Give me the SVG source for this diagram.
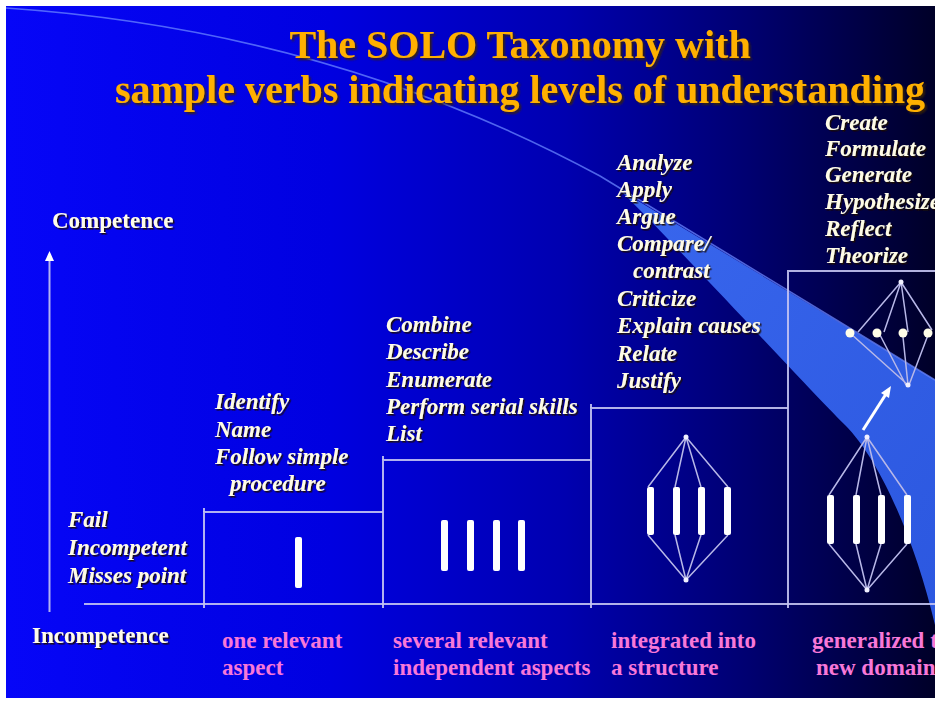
<svg xmlns="http://www.w3.org/2000/svg" width="935" height="704" viewBox="0 0 935 704">
<defs>
<linearGradient id="bg" x1="0" y1="0" x2="1" y2="0">
<stop offset="0" stop-color="#0606F8"/>
<stop offset="0.35" stop-color="#0000E0"/>
<stop offset="0.6" stop-color="#0000B0"/>
<stop offset="0.8" stop-color="#000070"/>
<stop offset="1" stop-color="#000028"/>
</linearGradient>
<linearGradient id="wedge" x1="0" y1="0" x2="1" y2="1">
<stop offset="0" stop-color="#3C6CF2"/>
<stop offset="1" stop-color="#2E5CEA"/>
</linearGradient>
<filter id="sh" x="-10%" y="-30%" width="120%" height="160%">
<feDropShadow dx="1.5" dy="1.5" stdDeviation="0.6" flood-color="#1A0E00" flood-opacity="0.95"/>
</filter>
<filter id="tsh" x="-5%" y="-20%" width="110%" height="140%">
<feDropShadow dx="2" dy="2" stdDeviation="0.8" flood-color="#3A2000" flood-opacity="0.9"/>
</filter>
<filter id="glow" x="-50%" y="-50%" width="200%" height="200%">
<feGaussianBlur stdDeviation="0.6"/>
</filter>
<style>
.title{font-family:"Liberation Serif","Times New Roman",serif;font-weight:bold;font-size:40px;fill:#FFB000;text-anchor:middle;filter:url(#tsh)}
.verb{font-family:"Liberation Serif","Times New Roman",serif;font-weight:bold;font-style:italic;font-size:23px;fill:#FFFCE6;filter:url(#sh)}
.axis{font-family:"Liberation Serif","Times New Roman",serif;font-weight:bold;font-size:23px;fill:#FFFCEA;filter:url(#sh)}
.cat{font-family:"Liberation Serif","Times New Roman",serif;font-weight:bold;font-size:23px;fill:#F878D8}
.step{stroke:#C4C4F2;stroke-width:2;fill:none;stroke-opacity:0.9}
.link{stroke:#B8B8E8;stroke-width:1.5;fill:none}
.bar{fill:#FFFFFF}
.node{fill:#F0F0FF}
.dot{fill:#FFFDE8}
</style>
</defs>

<g id="background">
<rect x="0" y="0" width="935" height="704" fill="#FFFFFF"/>
<rect x="6" y="6" width="929" height="692" fill="url(#bg)"/>
<path d="M620,190 L935,380 L935,625 C915,540 880,460 845,425 C800,380 700,270 620,190 Z" fill="url(#wedge)" opacity="0.95"/>
<path d="M6,8 Q330,30 600,176 L935,380" fill="none" stroke="#6A86FF" stroke-width="1.6" stroke-opacity="0.75"/>
</g>

<g id="title">
<text class="title" x="520" y="58">The SOLO Taxonomy with</text>
<text class="title" x="520" y="103">sample verbs indicating levels of understanding</text>
</g>

<g id="axes">
<line class="step" x1="49.5" y1="612" x2="49.5" y2="258"/>
<polygon points="45,261 54,261 49.5,251" fill="#FFFFFF"/>
<line class="step" x1="84" y1="604" x2="935" y2="604"/>
<text class="axis" x="52" y="228">Competence</text>
<text class="axis" x="32" y="643">Incompetence</text>
</g>

<g id="steps">
<path class="step" d="M204,608 V512 H383"/>
<path class="step" d="M383,608 V460 H591"/>
<path class="step" d="M591,608 V408 H788"/>
<path class="step" d="M788,608 V271 H935"/>
<line class="step" x1="204" y1="512" x2="204" y2="508"/>
<line class="step" x1="383" y1="460" x2="383" y2="456"/>
<line class="step" x1="591" y1="408" x2="591" y2="404"/>
</g>

<g id="connectors">
<!-- relational diamond -->
<path class="link" d="M686,437 L648,487 M686,437 L675,487 M686,437 L701,487 M686,437 L728,487"/>
<path class="link" d="M648,535 L686,580 M675,535 L686,580 M701,535 L686,580 M728,535 L686,580"/>
<!-- extended abstract lower diamond -->
<path class="link" d="M867,437 L829,495 M867,437 L856,495 M867,437 L881,495 M867,437 L907,495"/>
<path class="link" d="M829,544 L867,590 M856,544 L867,590 M881,544 L867,590 M907,544 L867,590"/>
<!-- extended abstract upper diamond -->
<path class="link" d="M901,282 L858,332 M901,282 L884,332 M901,282 L908,332 M901,282 L932,330"/>
<path class="link" d="M850,333 L908,385 M880,335 L906,385 M903,337 L908,385 M928,335 L909,385"/>
<!-- generalisation arrow -->
<line x1="863" y1="430" x2="886" y2="394" stroke="#FFFFFF" stroke-width="3"/>
<polygon points="891,386 881,393 889,398" fill="#FFFFFF"/>
</g>

<g id="level-prestructural">
<text class="verb" x="68" y="527">Fail</text>
<text class="verb" x="68" y="555">Incompetent</text>
<text class="verb" x="68" y="583">Misses point</text>
</g>

<g id="level-unistructural">
<text class="verb" x="215" y="409">Identify</text>
<text class="verb" x="215" y="437">Name</text>
<text class="verb" x="215" y="464">Follow simple</text>
<text class="verb" x="230" y="491">procedure</text>
<rect class="bar" x="295" y="537" width="7" height="51" rx="2"/>
<text class="cat" x="222" y="648">one relevant</text>
<text class="cat" x="222" y="675">aspect</text>
</g>

<g id="level-multistructural">
<text class="verb" x="386" y="332">Combine</text>
<text class="verb" x="386" y="359">Describe</text>
<text class="verb" x="386" y="387">Enumerate</text>
<text class="verb" x="386" y="414">Perform serial skills</text>
<text class="verb" x="386" y="441">List</text>
<rect class="bar" x="441" y="520" width="7" height="51" rx="2"/>
<rect class="bar" x="467" y="520" width="7" height="51" rx="2"/>
<rect class="bar" x="493" y="520" width="7" height="51" rx="2"/>
<rect class="bar" x="518" y="520" width="7" height="51" rx="2"/>
<text class="cat" x="393" y="648">several relevant</text>
<text class="cat" x="393" y="675">independent aspects</text>
</g>

<g id="level-relational">
<text class="verb" x="617" y="170">Analyze</text>
<text class="verb" x="617" y="197">Apply</text>
<text class="verb" x="617" y="224">Argue</text>
<text class="verb" x="617" y="251">Compare/</text>
<text class="verb" x="633" y="278">contrast</text>
<text class="verb" x="617" y="306">Criticize</text>
<text class="verb" x="617" y="333">Explain causes</text>
<text class="verb" x="617" y="361">Relate</text>
<text class="verb" x="617" y="388">Justify</text>
<rect class="bar" x="647" y="487" width="7" height="48" rx="2"/>
<rect class="bar" x="673" y="487" width="7" height="48" rx="2"/>
<rect class="bar" x="698" y="487" width="7" height="48" rx="2"/>
<rect class="bar" x="724" y="487" width="7" height="48" rx="2"/>
<circle class="node" cx="686" cy="437" r="2.5"/>
<circle class="node" cx="686" cy="580" r="2.5"/>
<text class="cat" x="611" y="648">integrated into</text>
<text class="cat" x="611" y="675">a structure</text>
</g>

<g id="level-extended-abstract">
<text class="verb" x="825" y="130">Create</text>
<text class="verb" x="825" y="156">Formulate</text>
<text class="verb" x="825" y="182">Generate</text>
<text class="verb" x="825" y="209">Hypothesize</text>
<text class="verb" x="825" y="236">Reflect</text>
<text class="verb" x="825" y="263">Theorize</text>
<rect class="bar" x="827" y="495" width="7" height="49" rx="2"/>
<rect class="bar" x="853" y="495" width="7" height="49" rx="2"/>
<rect class="bar" x="878" y="495" width="7" height="49" rx="2"/>
<rect class="bar" x="904" y="495" width="7" height="49" rx="2"/>
<circle class="node" cx="867" cy="437" r="2.5"/>
<circle class="node" cx="867" cy="590" r="2.5"/>
<circle class="node" cx="901" cy="282" r="2.5"/>
<circle class="node" cx="908" cy="385" r="2.5"/>
<circle class="dot" cx="850" cy="333" r="4.5" filter="url(#glow)"/>
<circle class="dot" cx="877" cy="333" r="4.5" filter="url(#glow)"/>
<circle class="dot" cx="903" cy="333" r="4.5" filter="url(#glow)"/>
<circle class="dot" cx="928" cy="333" r="4.5" filter="url(#glow)"/>
<text class="cat" x="812" y="648">generalized to</text>
<text class="cat" x="816" y="675">new domain</text>
</g>
</svg>
